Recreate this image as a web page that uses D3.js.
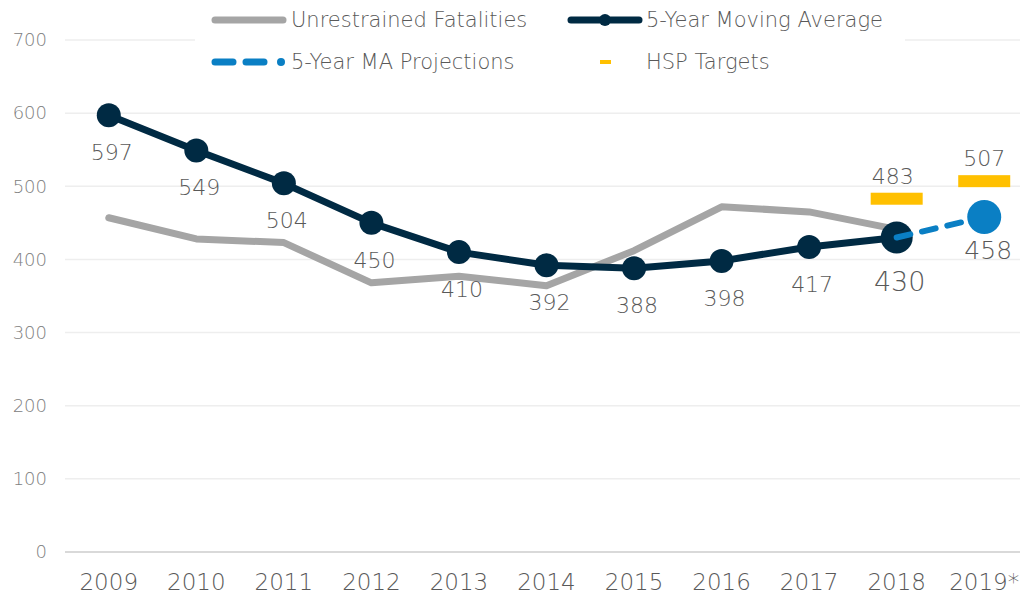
<!DOCTYPE html>
<html>
<head>
<meta charset="utf-8">
<script src="https://cdn.jsdelivr.net/npm/d3@7"></script>
<style>
  body { margin: 0; background: #fff; }
  text { font-family: "DejaVu Sans", sans-serif; font-weight: 200; }
</style>
</head>
<body>
<div id="maincontent"></div>
<script>
var width = 1020, height = 595;

var years = ["2009","2010","2011","2012","2013","2014","2015","2016","2017","2018","2019*"];
var unrestrained = [457, 428, 423, 368, 377, 364, 412, 472, 465, 441];
var movingAvg = [597, 549, 504, 450, 410, 392, 388, 398, 417, 430];
var projYears = ["2018", "2019*"];
var projValues = [430, 458];
var targetYears = ["2018", "2019*"];
var targetValues = [483, 507];
var yTicks = [0, 100, 200, 300, 400, 500, 600, 700];

var margin = {left: 65, right: -8, top: 40, bottom: 43};

var svg = d3.select("#maincontent").append("svg")
    .attr("width", width)
    .attr("height", height);

var x = d3.scaleBand()
    .domain(years)
    .range([margin.left, width - margin.right]);

var y = d3.scaleLinear()
    .domain([0, 700])
    .range([height - margin.bottom, margin.top]);

var cx = function (yr) { return x(yr) + x.bandwidth() / 2 };

// gridlines
svg.append("g").selectAll("line")
    .data(yTicks)
    .enter().append("line")
    .attr("x1", margin.left)
    .attr("x2", width)
    .attr("y1", function (d) { return y(d) })
    .attr("y2", function (d) { return y(d) })
    .attr("stroke", function (d) { return d == 0 ? "#d9d9d9" : "#eeeeee" })
    .attr("stroke-width", function (d) { return d == 0 ? 2 : 1.5 });

// y axis labels
svg.append("g").selectAll("text")
    .data(yTicks)
    .enter().append("text")
    .attr("x", 47)
    .attr("y", function (d) { return y(d) })
    .attr("dy", "0.35em")
    .attr("text-anchor", "end")
    .attr("fill", "#808080")
    .style("font-size", "18px")
    .text(function (d) { return d });

// x axis labels
svg.append("g").selectAll("text")
    .data(years)
    .enter().append("text")
    .attr("x", function (d) { return cx(d) })
    .attr("y", 590)
    .attr("text-anchor", "middle")
    .attr("fill", "#595959")
    .style("font-size", "23px")
    .text(function (d) { return d });

var line = d3.line()
    .x(function (d) { return cx(d[0]) })
    .y(function (d) { return y(d[1]) });

// unrestrained fatalities
svg.append("path")
    .datum(unrestrained.map(function (v, i) { return [years[i], v] }))
    .attr("d", line)
    .attr("fill", "none")
    .attr("stroke", "#a5a5a5")
    .attr("stroke-width", 7)
    .attr("stroke-linejoin", "round")
    .attr("stroke-linecap", "round");

// 5-year moving average
svg.append("path")
    .datum(movingAvg.map(function (v, i) { return [years[i], v] }))
    .attr("d", line)
    .attr("fill", "none")
    .attr("stroke", "#002a43")
    .attr("stroke-width", 7)
    .attr("stroke-linejoin", "round");

svg.append("g").selectAll("circle")
    .data(movingAvg)
    .enter().append("circle")
    .attr("cx", function (d, i) { return cx(years[i]) })
    .attr("cy", function (d) { return y(d) })
    .attr("r", function (d, i) { return i == movingAvg.length - 1 ? 16 : 12 })
    .attr("fill", "#002a43");

// projection
svg.append("path")
    .datum(projValues.map(function (v, i) { return [projYears[i], v] }))
    .attr("d", line)
    .attr("fill", "none")
    .attr("stroke", "#0a7fc4")
    .attr("stroke-width", 6)
    .attr("stroke-linecap", "round")
    .attr("stroke-dasharray", "14,12");

svg.append("circle")
    .attr("cx", cx(projYears[1]))
    .attr("cy", y(projValues[1]))
    .attr("r", 17)
    .attr("fill", "#0a7fc4");

// HSP targets
svg.append("g").selectAll("rect")
    .data(targetValues)
    .enter().append("rect")
    .attr("x", function (d, i) { return cx(targetYears[i]) - 26 })
    .attr("y", function (d) { return y(d) - 6 })
    .attr("width", 52)
    .attr("height", 12)
    .attr("fill", "#ffc000");

svg.append("g").selectAll("text")
    .data(targetValues)
    .enter().append("text")
    .attr("x", function (d, i) { return cx(targetYears[i]) - 4 + i * 4 })
    .attr("y", function (d) { return y(d) - 15 })
    .attr("text-anchor", "middle")
    .attr("fill", "#595959")
    .style("font-size", "22px")
    .text(function (d) { return d });

// data labels
svg.append("g").selectAll("text")
    .data(movingAvg)
    .enter().append("text")
    .attr("x", function (d, i) { return cx(years[i]) + 3 })
    .attr("y", function (d, i) { return y(d) + (i == 9 ? 54 : 45) })
    .attr("text-anchor", "middle")
    .attr("fill", "#595959")
    .style("font-size", function (d, i) { return i == 9 ? "27px" : "22px" })
    .text(function (d) { return d });

svg.append("text")
    .attr("x", cx(projYears[1]) + 4)
    .attr("y", y(projValues[1]) + 42)
    .attr("text-anchor", "middle")
    .attr("fill", "#595959")
    .style("font-size", "25px")
    .text(projValues[1]);

// legend
var legend = svg.append("g");
legend.append("rect")
    .attr("x", 195).attr("y", 0).attr("width", 710).attr("height", 82)
    .attr("fill", "#fff");

legend.append("line")
    .attr("x1", 215).attr("x2", 283).attr("y1", 20).attr("y2", 20)
    .attr("stroke", "#a5a5a5").attr("stroke-width", 7).attr("stroke-linecap", "round");
legend.append("text")
    .attr("x", 291).attr("y", 20).attr("dy", "0.35em")
    .attr("fill", "#595959").style("font-size", "21px")
    .text("Unrestrained Fatalities");

legend.append("line")
    .attr("x1", 571).attr("x2", 639).attr("y1", 20).attr("y2", 20)
    .attr("stroke", "#002a43").attr("stroke-width", 7).attr("stroke-linecap", "round");
legend.append("circle")
    .attr("cx", 605).attr("cy", 20).attr("r", 6).attr("fill", "#002a43");
legend.append("text")
    .attr("x", 646).attr("y", 20).attr("dy", "0.35em")
    .attr("fill", "#595959").style("font-size", "21px")
    .text("5-Year Moving Average");

legend.append("line")
    .attr("x1", 215).attr("x2", 268).attr("y1", 62).attr("y2", 62)
    .attr("stroke", "#0a7fc4").attr("stroke-width", 7).attr("stroke-linecap", "round")
    .attr("stroke-dasharray", "18,13");
legend.append("circle")
    .attr("cx", 281).attr("cy", 62).attr("r", 4).attr("fill", "#0a7fc4");
legend.append("text")
    .attr("x", 291).attr("y", 62).attr("dy", "0.35em")
    .attr("fill", "#595959").style("font-size", "21px")
    .text("5-Year MA Projections");

legend.append("rect")
    .attr("x", 600).attr("y", 60).attr("width", 11).attr("height", 4)
    .attr("fill", "#ffc000");
legend.append("text")
    .attr("x", 646).attr("y", 62).attr("dy", "0.35em")
    .attr("fill", "#595959").style("font-size", "21px")
    .text("HSP Targets");
</script>
</body>
</html>
